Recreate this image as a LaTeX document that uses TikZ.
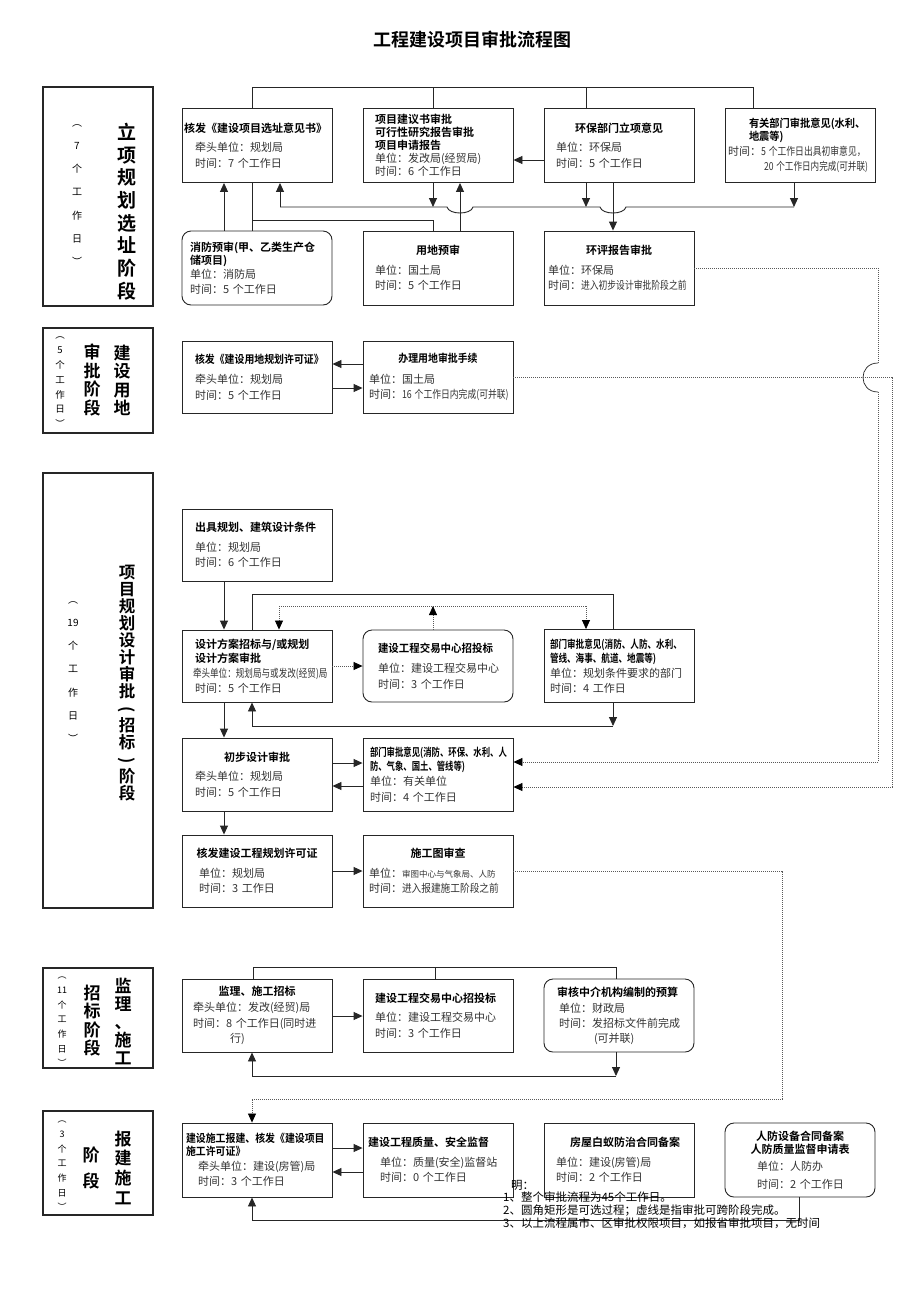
\documentclass[tikz,border=0pt]{standalone}
\usepackage{fontspec}
\setmainfont{Noto Sans CJK SC}[BoldFont={Noto Sans CJK SC Bold}]
\usepackage{graphicx}
\usetikzlibrary{arrows.meta}

\newcommand{\hd}[1]{{\fontsize{11}{16}\selectfont\bfseries #1}}
\newcommand{\bd}[1]{{\color{black!80}#1}}
\newcommand{\cnd}[2][0.85]{\scalebox{#1}[1]{#2}}
\newcommand{\ctr}[1]{\hfill#1\hfill\null}
\newcommand{\vpar}[1]{\rotatebox[origin=c]{-90}{#1}}

\tikzset{
  box/.style={draw=black!85, line width=0.9pt, fill=white, minimum width=150pt, minimum height=74pt,
    inner sep=0pt, text width=138pt, align=left, font=\fontsize{11}{15.5}\selectfont},
  rbox/.style={box, rounded corners=9pt},
  stagebox/.style={draw=black!85, line width=1.5pt, minimum width=110pt, inner sep=0pt},
  vtxt/.style={align=center, inner sep=0pt},
  link/.style={draw=black!85, line width=0.9pt},
  arr/.style={link, -{Triangle[length=9pt,width=8pt]}},
  dotlink/.style={draw=black!65, line width=0.8pt, dash pattern=on 1pt off 1pt},
  dotarr/.style={dotlink, -{Triangle[length=9pt,width=8pt,color=black]}},
}

\begin{document}
\begin{tikzpicture}[x=1pt,y=-1pt]
\path[use as bounding box, fill=white] (0,0) rectangle (920,1302);

% Text Node
\node[font=\fontsize{18}{20}\selectfont\bfseries] (title) at (472,40) {工程建设项目审批流程图};

%Shape: Rectangle -- stage labels
\node[stagebox, minimum height=219pt] (s1) at (98,196.5) {};
\node[stagebox, minimum height=105pt] (s2) at (98,380.5) {};
\node[stagebox, minimum height=435pt] (s3) at (98,690.5) {};
\node[stagebox, minimum height=100pt] (s4) at (98,1018) {};
\node[stagebox, minimum height=104pt] (s5) at (98,1163) {};

% Text Node
\node[vtxt, font=\fontsize{19}{22.7}\selectfont\bfseries] (s1t) at (127,211.5) {立\\项\\规\\划\\选\\址\\阶\\段};
\node[vtxt, font=\fontsize{10}{23.3}\selectfont] (s1d) at (77,195) {︵\\7\\个\\工\\作\\日\\︶};
\node[vtxt, font=\fontsize{17}{18.5}\selectfont\bfseries] (s2t) at (122,380.5) {建\\设\\用\\地};
\node[vtxt, font=\fontsize{17}{18.5}\selectfont\bfseries] (s2u) at (92,380) {审\\批\\阶\\段};
\node[vtxt, font=\fontsize{9.5}{14.8}\selectfont] (s2d) at (60,382.5) {︵\\5\\个\\工\\作\\日\\︶};
\node[vtxt, font=\fontsize{16.5}{17}\selectfont\bfseries] (s3t) at (127,683.5) {项\\目\\规\\划\\设\\计\\审\\批\\\vpar{(}\\招\\标\\\vpar{)}\\阶\\段};
\node[vtxt, font=\fontsize{10}{23.3}\selectfont] (s3d) at (73,672) {︵\\19\\个\\工\\作\\日\\︶};
\node[vtxt, font=\fontsize{17}{18}\selectfont\bfseries] (s4t) at (123,1021) {监\\理\\、\\施\\工};
\node[vtxt, font=\fontsize{17}{18.3}\selectfont\bfseries] (s4u) at (92,1020.5) {招\\标\\阶\\段};
\node[vtxt, font=\fontsize{9}{14.7}\selectfont] (s4d) at (62,1022) {︵\\11\\个\\工\\作\\日\\︶};
\node[vtxt, font=\fontsize{17}{19.7}\selectfont\bfseries] (s5t) at (123,1167.5) {报\\建\\施\\工};
\node[vtxt, font=\fontsize{17}{26}\selectfont\bfseries] (s5u) at (91,1168) {阶\\段};
\node[vtxt, font=\fontsize{9}{14.7}\selectfont] (s5d) at (62,1166) {︵\\3\\个\\工\\作\\日\\︶};

%Shape: Rectangle -- stage 1
\node[box] (A) at (257,145.5) {\hspace*{-4pt}\hd{核发《建设项目选址意见书》}\\[4pt]
  \hspace*{7pt}\bd{牵头单位：规划局}\\
  \hspace*{7pt}\bd{时间：7 个工作日}};
\node[box, font=\fontsize{11}{13}\selectfont] (B) at (438,145.5) {\hspace*{6pt}\hd{项目建议书审批}\\
  \hspace*{6pt}\hd{可行性研究报告审批}\\
  \hspace*{6pt}\hd{项目申请报告}\\
  \hspace*{6pt}\bd{单位：发改局(经贸局)}\\
  \hspace*{6pt}\bd{时间：6 个工作日}};
\node[box] (C) at (619,145.5) {\ctr{\hd{环保部门立项意见}}\\[4pt]
  \hspace*{6pt}\bd{单位：环保局}\\
  \hspace*{6pt}\bd{时间：5 个工作日}};
\node[box, font=\fontsize{11}{14.5}\selectfont] (D) at (800,145.5) {\hspace*{18pt}\hd{\cnd[0.93]{有关部门审批意见(水利、}}\\[-2pt]
  \hspace*{18pt}\hd{\cnd[0.93]{地震等)}}\\[1pt]
  \hspace*{-3pt}\bd{时间：\cnd[0.8]{5 个工作日出具初审意见，}}\\
  \hspace*{33pt}\bd{\cnd[0.78]{20 个工作日内完成(可并联)}}};
\node[rbox, font=\fontsize{11}{14.5}\selectfont] (E) at (257,268) {\hspace*{2pt}\hd{消防预审(甲、乙类生产仓}\\[-2pt]
  \hspace*{2pt}\hd{储项目)}\\
  \hspace*{2pt}\bd{单位：消防局}\\
  \hspace*{2pt}\bd{时间：5 个工作日}};
\node[box] (F) at (438,268) {\ctr{\hd{用地预审}}\\[4pt]
  \hspace*{6pt}\bd{单位：国土局}\\
  \hspace*{6pt}\bd{时间：5 个工作日}};
\node[box] (G) at (619,268) {\ctr{\hd{环评报告审批}}\\[4pt]
  \hspace*{-2pt}\bd{单位：环保局}\\
  \hspace*{-2pt}\bd{时间：\cnd[0.8]{进入初步设计审批阶段之前}}};

%Shape: Rectangle -- stage 2
\node[box, minimum height=72pt] (H) at (257,377) {\hspace*{7pt}\hd{\cnd[0.9]{核发《建设用地规划许可证》}}\\[5pt]
  \hspace*{7pt}\bd{牵头单位：规划局}\\
  \hspace*{7pt}\bd{时间：5 个工作日}};
\node[box, minimum height=72pt] (I) at (438,377) {\ctr{\hd{\cnd[0.9]{办理用地审批手续}}}\\[5pt]
  \bd{单位：国土局}\\
  \bd{时间：\cnd[0.8]{16 个工作日内完成(可并联)}}};

%Shape: Rectangle -- stage 3
\node[box, minimum height=72pt] (J) at (257,545) {\hspace*{7pt}\hd{出具规划、建筑设计条件}\\[4pt]
  \hspace*{7pt}\bd{单位：规划局}\\
  \hspace*{7pt}\bd{时间：6 个工作日}};
\node[box, minimum height=72pt, font=\fontsize{11}{15}\selectfont] (K) at (257,666) {\hspace*{7pt}\hd{设计方案招标与/或规划}\\[-1pt]
  \hspace*{7pt}\hd{设计方案审批}\\
  \hspace*{5pt}\bd{\cnd[0.78]{牵头单位：规划局与或发改(经贸)局}}\\
  \hspace*{7pt}\bd{时间：5 个工作日}};
\node[rbox, minimum height=72pt] (L) at (438,666) {\hspace*{9pt}\hd{\cnd[0.95]{建设工程交易中心招投标}}\\[5pt]
  \hspace*{9pt}\bd{单位：建设工程交易中心}\\
  \hspace*{9pt}\bd{时间：3 个工作日}};
\node[box, minimum height=73pt, font=\fontsize{11}{15}\selectfont] (M) at (619,666) {\hd{\cnd[0.78]{部门审批意见(消防、人防、水利、}}\\[-1pt]
  \hd{\cnd[0.78]{管线、海事、航道、地震等)}}\\
  \bd{单位：规划条件要求的部门}\\
  \bd{时间：4 工作日}};
\node[box, minimum height=73pt] (N) at (257,774.5) {\ctr{\hd{初步设计审批}}\\[4pt]
  \hspace*{7pt}\bd{牵头单位：规划局}\\
  \hspace*{7pt}\bd{时间：5 个工作日}};
\node[box, minimum height=73pt, font=\fontsize{11}{15.5}\selectfont] (O) at (438,774.5) {\hspace*{1pt}\hd{\cnd[0.76]{部门审批意见(消防、环保、水利、人}}\\[-2pt]
  \hspace*{1pt}\hd{\cnd[0.76]{防、气象、国土、管线等)}}\\
  \hspace*{1pt}\bd{单位：有关单位}\\
  \hspace*{1pt}\bd{时间：4 个工作日}};
\node[box, minimum height=72pt] (P) at (257,871) {\ctr{\hd{核发建设工程规划许可证}}\\[4pt]
  \hspace*{11pt}\bd{单位：规划局}\\
  \hspace*{11pt}\bd{时间：3 工作日}};
\node[box, minimum height=72pt] (Q) at (438,871) {\ctr{\hd{施工图审查}}\\[4pt]
  \bd{单位：{\fontsize{8.5}{8.5}\selectfont 审图中心与气象局、人防}}\\
  \bd{时间：\cnd[0.88]{进入报建施工阶段之前}}};

%Shape: Rectangle -- stage 4
\node[box, minimum height=73pt, font=\fontsize{11}{15.5}\selectfont] (R) at (257,1015.5) {\ctr{\hd{监理、施工招标}}\\[1pt]
  \hspace*{5pt}\bd{牵头单位：发改(经贸)局}\\
  \hspace*{5pt}\bd{时间：8 个工作日(同时进}\\
  \hspace*{42pt}\bd{行)}};
\node[box, minimum height=73pt] (S) at (438,1015.5) {\hspace*{6pt}\hd{建设工程交易中心招投标}\\[4pt]
  \hspace*{6pt}\bd{单位：建设工程交易中心}\\
  \hspace*{6pt}\bd{时间：3 个工作日}};
\node[rbox, minimum height=73pt, font=\fontsize{11}{15}\selectfont] (T) at (619,1015.5) {\hspace*{7pt}\hd{审核中介机构编制的预算}\\[1pt]
  \hspace*{9pt}\bd{单位：财政局}\\
  \hspace*{9pt}\bd{时间：发招标文件前完成}\\
  \hspace*{44pt}\bd{(可并联)}};

%Shape: Rectangle -- stage 5
\node[box, font=\fontsize{11}{15}\selectfont] (U) at (257,1160) {\hspace*{-2pt}\hd{\cnd[0.9]{建设施工报建、核发《建设项目}}\\[-2pt]
  \hspace*{-2pt}\hd{\cnd[0.9]{施工许可证》}}\\
  \hspace*{10pt}\bd{牵头单位：建设(房管)局}\\
  \hspace*{10pt}\bd{时间：3 个工作日}};
\node[box] (V) at (438,1160) {\hspace*{-1pt}\hd{建设工程质量、安全监督}\\[4pt]
  \hspace*{11pt}\bd{单位：质量(安全)监督站}\\
  \hspace*{11pt}\bd{时间：0 个工作日}};
\node[box] (W) at (619,1160) {\hspace*{20pt}\hd{房屋白蚁防治合同备案}\\[4pt]
  \hspace*{6pt}\bd{单位：建设(房管)局}\\
  \hspace*{6pt}\bd{时间：2 个工作日}};
\node[rbox, font=\fontsize{11}{15.5}\selectfont] (X) at (800,1160) {\ctr{\hd{人防设备合同备案}}\\[-2pt]
  \ctr{\hd{人防质量监督申请表}}\\[1pt]
  \hspace*{26pt}\bd{单位：人防办}\\[3pt]
  \hspace*{26pt}\bd{时间：2 个工作日}};

%Straight Lines -- stage 1
\coordinate (j1) at (252,220);
\coordinate (bus1) at (280,207);
\coordinate (bus2) at (794,207);
\draw[link] (A.north -| 252,0) -- ++(0,-21) -| (D.north -| 753,0);
\draw[link] (B.north -| 433,0) -- ++(0,-21);
\draw[link] (C.north -| 586,0) -- ++(0,-21);
\draw[arr] (C.west |- 0,160) -- (B.east |- 0,160);
\draw[arr] (E.north -| 224,0) -- (A.south -| 224,0);
\draw[link] (A.south -| j1) -- (E.north -| j1);
\draw[link] (j1) -| (F.north -| 433,0);
\draw[arr] (bus1) -- (A.south -| bus1);
\draw[link] (bus1) -- (447,207) .. controls (449,215) and (471,215) .. (473,207)
  -- (600,207) .. controls (602,215) and (624,215) .. (626,207) -- (bus2);
\draw[arr] (B.south -| 433,0) -- (433,207);
\draw[arr] (F.north -| 460,0) -- (B.south -| 460,0);
\draw[arr] (C.south -| 586,0) -- (586,207);
\draw[arr] (C.south -| 613,0) -- (G.north -| 613,0);
\draw[arr] (D.south -| bus2) -- (bus2);

%Straight Lines -- stage 2
\draw[arr] (I.west |- 0,364) -- (H.east |- 0,364);
\draw[arr] (H.east |- 0,388) -- (I.west |- 0,388);

%Dotted Lines -- across stages
\coordinate (h1) at (878,363);
\coordinate (h2) at (878,392);
\draw[dotlink] (G.east) -| (h1);
\draw[link, line width=0.7pt] (h1) .. controls (858,363) and (858,392) .. (h2);
\draw[dotarr] (h2) |- (O.east |- 0,762);
\draw[dotarr] (I.east) -| (892,787) -- (O.east |- 0,787);

%Straight Lines -- stage 3
\coordinate (d1) at (279,606);
\coordinate (d2) at (586,606);
\draw[arr] (J.south -| 224,0) -- (K.north -| 224,0);
\draw[arr] (K.south -| 224,0) -- (N.north -| 224,0);
\draw[arr] (N.south -| 224,0) -- (P.north -| 224,0);
\draw[dotarr] (K.east) -- (L.west);
\draw[dotlink] (d1) -- (d2);
\draw[dotarr] (d1) -- (K.north -| d1);
\draw[dotarr] (d2) -- (M.north -| d2);
\draw[dotarr] (L.north -| 433,0) -- (433,606);
\draw[link] (K.north -| 252,0) |- (613,594) -- (M.north -| 613,0);
\draw[arr] (M.south -| 613,0) -- (613,726);
\draw[arr] (613,726) -| (K.south -| 252,0);
\draw[arr] (N.east |- 0,763) -- (O.west |- 0,763);
\draw[arr] (O.west |- 0,786) -- (N.east |- 0,786);
\draw[arr] (P.east) -- (Q.west);
\draw[dotarr] (Q.east) -| (782,1099) -| (U.north -| 252,0);

%Straight Lines -- stage 4
\draw[link] (R.north -| 253,0) -- (253,967) -| (T.north -| 616,0);
\draw[link] (S.north -| 435,0) -- (435,967);
\draw[arr] (R.east |- 0,1016) -- (S.west |- 0,1016);
\draw[arr] (T.south -| 616,0) -- (616,1076);
\draw[arr] (616,1076) -| (R.south -| 252,0);

%Straight Lines -- stage 5
\draw[arr] (U.east |- 0,1148) -- (V.west |- 0,1148);
\draw[arr] (V.west |- 0,1172) -- (U.east |- 0,1172);
\draw[arr] (X.south -| 799,0) |- (252,1220) -- (U.south -| 252,0);

% Text Node
\node[anchor=north west, align=left, inner sep=0pt, font=\fontsize{11.5}{12.6}\selectfont] (notes) at (503,1180)
  {\hspace*{8pt}明：\\1、整个审批流程为45个工作日。\\2、圆角矩形是可选过程；虚线是指审批可跨阶段完成。\\3、以上流程属市、区审批权限项目，如报省审批项目，无时间};

\end{tikzpicture}
\end{document}
